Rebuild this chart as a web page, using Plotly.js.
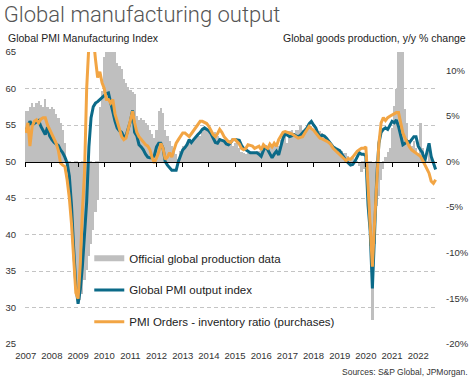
<!DOCTYPE html>
<html>
<head>
<meta charset="utf-8">
<script src="https://cdn.plot.ly/plotly-3.0.1.min.js"></script>
<style>html,body{margin:0;padding:0;background:#fff;}#chart{width:474px;height:384px;}</style>
</head>
<body>
<div id="chart"></div>
<script>
// ---- Data (monthly, Jan 2007 onwards) ----
const startYear = 2007;
const yearLabels = ['2007','2008','2009','2010','2011','2012','2013','2014','2015','2016','2017','2018','2019','2020','2021','2022'];

// Global PMI output index (left axis)
const pmiOutput = [
  54.1, 55.0, 55.5, 55.0, 55.2, 55.5, 55.6, 54.8, 54.2, 53.7, 54.7, 53.5,
  53.0, 52.6, 52.4, 52.2, 51.6, 51.2, 50.6, 49.8, 48.0, 44.0, 38.0, 33.0,
  30.5, 32.5, 35.5, 39.5, 44.5, 52.0, 56.0, 57.5, 58.0, 58.2, 58.5, 58.8,
  59.0, 59.3, 59.4, 58.0, 56.6, 55.5, 54.6, 54.2, 54.0, 53.4, 53.5, 54.5,
  55.5, 57.0, 54.0, 53.5, 52.3, 52.0, 51.6, 51.0, 50.6, 50.5, 50.5, 50.8,
  52.0, 52.5, 52.5, 51.8, 50.0, 49.5, 49.1, 48.8, 48.8, 48.8, 50.0, 50.8,
  51.6, 51.9, 52.3, 53.0, 52.6, 53.0, 53.4, 53.7, 54.0, 54.4, 54.6, 54.4,
  54.2, 53.8, 53.2, 52.6, 52.5, 53.0, 52.9, 52.8, 52.4, 52.3, 52.6, 53.0,
  53.0, 53.0, 52.9, 52.2, 51.8, 51.6, 51.4, 51.2, 51.2, 51.2, 51.2, 51.0,
  50.7, 51.5, 52.1, 51.6, 51.0, 50.5, 51.0, 51.4, 50.9, 52.0, 53.2, 53.8,
  53.6, 53.4, 53.5, 53.7, 53.5, 53.4, 53.6, 53.9, 54.3, 54.6, 55.2, 55.5,
  55.0, 54.6, 53.9, 53.4, 53.6, 53.5, 53.2, 52.8, 52.5, 52.0, 51.8, 51.6,
  51.5, 51.0, 50.5, 50.1, 49.8, 49.5, 49.6, 50.0, 50.6, 51.2, 51.0, 51.0,
  50.8, 44.0, 40.5, 32.6, 40.0, 47.8, 52.5, 54.0, 54.4, 54.6, 54.4, 55.0,
  55.5, 55.3, 55.7, 54.8, 53.4, 52.3, 52.5, 52.8, 52.6, 53.0, 53.4, 53.4,
  52.1, 51.6, 51.2, 50.0, 51.2, 52.5, 50.7, 49.8, 48.9
];

// PMI Orders - inventory ratio (purchases) (left axis)
const ordersInventory = [
  53.9, 55.3, 52.1, 54.8, 55.5, 55.7, 55.3, 55.8, 56.0, 56.0, 55.0, 54.4,
  53.8, 53.2, 52.5, 51.5, 49.8, 49.5, 49.3, 47.5, 45.0, 41.5, 37.0, 32.0,
  31.2, 36.0, 43.0, 48.5, 60.0, 66.0, 68.0, 67.0, 64.0, 61.5, 62.3, 60.8,
  60.0, 58.5, 58.5, 58.0, 58.5, 56.5, 55.5, 54.5, 53.4, 53.0, 53.2, 54.4,
  55.5, 56.9, 55.3, 54.0, 53.4, 53.0, 52.6, 52.3, 52.1, 51.6, 50.5, 49.8,
  50.5, 51.3, 52.5, 51.8, 50.3, 50.6, 51.2, 50.6, 51.6, 52.5, 53.0, 53.5,
  53.9, 53.9, 53.6, 53.4, 53.8, 54.2, 54.6, 55.0, 55.5, 55.5, 55.4, 55.2,
  54.8, 54.2, 53.7, 53.4, 53.8, 54.4, 54.0, 53.4, 53.0, 52.7, 52.6, 53.0,
  53.0, 52.6, 52.4, 51.8, 51.6, 51.8, 52.3, 52.2, 52.1, 51.8, 52.0, 52.1,
  51.6, 52.3, 52.0, 51.8, 52.4, 52.0, 52.5, 52.1, 53.0, 53.6, 54.0, 54.1,
  54.0, 53.9, 53.8, 53.6, 53.4, 53.2, 53.3, 53.4, 53.9, 54.3, 54.8, 54.5,
  54.3, 53.9, 53.5, 53.2, 53.1, 53.0, 52.8, 52.6, 52.3, 51.8, 51.5, 51.3,
  50.9, 50.6, 50.3, 50.1, 50.4, 50.3, 50.6, 51.0, 51.4, 51.6, 51.8, 51.8,
  52.0, 46.5, 41.0, 35.6, 41.5, 48.0, 52.5, 55.3, 56.0, 55.6, 56.0, 56.2,
  56.4, 56.6, 56.7, 56.7, 55.5, 53.9, 53.2, 52.5, 52.0, 51.6, 51.4, 51.2,
  51.0, 50.7, 50.2, 49.6, 49.0, 48.4, 47.3, 47.0, 47.5
];

// Official global production data, y/y % (right axis)
const goodsProduction = [
  5.5, 5.5, 6.0, 6.4, 6.0, 6.4, 6.6, 6.2, 6.0, 6.8, 6.0, 5.7,
  6.0, 5.8, 5.2, 4.8, 4.2, 3.5, 2.0, -0.5, -3.0, -6.7, -10.0, -13.0,
  -15.2, -15.2, -14.5, -13.0, -11.9, -10.4, -9.0, -7.5, -5.5, -4.2, 6.0, 7.7,
  11.5, 12.0, 14.0, 14.5, 14.0, 13.0, 10.8, 10.5, 10.1, 9.0, 8.6, 8.2,
  7.8, 7.6, 7.4, 5.0, 4.5, 4.8, 4.5, 4.2, 4.0, 3.5, 3.0, 2.6,
  3.5, 5.5, 5.9, 5.3, 3.5, 2.8, 2.2, 1.7, 1.0, 0.8, 0.3, 1.2,
  1.7, 1.7, 2.0, 2.4, 2.4, 2.4, 2.6, 2.8, 2.8, 3.2, 3.5, 3.3,
  3.5, 3.3, 3.0, 3.2, 2.8, 2.6, 2.4, 2.4, 2.6, 2.4, 2.0, 1.7,
  2.0, 2.4, 1.5, 1.0, 0.9, 0.8, 0.9, 0.9, 1.0, 1.0, 1.1, 1.2,
  1.3, 1.5, 1.5, 1.7, 1.8, 1.7, 1.8, 2.0, 1.7, 2.4, 3.1, 3.3,
  2.0, 3.3, 3.4, 3.1, 3.4, 3.5, 3.9, 3.5, 3.2, 3.5, 3.6, 3.9,
  3.5, 3.6, 3.3, 3.3, 3.1, 2.8, 2.4, 2.1, 2.0, 1.7, 1.5, 1.3,
  1.3, 1.2, 0.9, 0.9, 0.6, 0.3, 0.5, 0.2, -0.2, -0.5, -1.2, -0.8,
  -1.2, -5.3, -9.3, -17.4, -9.0, -4.9, -3.8, -2.0, -0.8, 0.5, 1.0, 1.5,
  3.7, 6.1, 7.9, 17.0, 15.0, 12.8, 5.7, 4.2, 2.4, 1.7, 2.2, 1.5,
  0.9, 4.2, 1.5, 0.6, -0.2, 2.0, 0.9
];

// Right axis tick labels
const rightTickVals = [-20, -15, -10, -5, 0, 5, 10];
const rightTickText = ['-20%', '-15%', '-10%', '-5%', '0%', '5%', '10%'];

// Monthly category dates
function monthDates(n) {
  const out = [];
  for (let m = 0; m < n; m++) {
    const y = startYear + Math.floor(m / 12);
    const mo = (m % 12) + 1;
    out.push(y + '-' + (mo < 10 ? '0' : '') + mo + '-01');
  }
  return out;
}
const xPmi = monthDates(pmiOutput.length);
const xOrd = monthDates(ordersInventory.length);
const xProd = monthDates(goodsProduction.length);

const GRAY = '#bfbfbf', TEAL = '#0b6a88', ORANGE = '#f2a544';
const xRange = ['2006-12-22', '2022-09-20'];
const BAR_WIDTH_MS = 32 * 24 * 3600 * 1000;

const traces = [
  {type:'bar', x:xProd, y:goodsProduction, xaxis:'x', yaxis:'y', width:BAR_WIDTH_MS,
   marker:{color:GRAY, line:{width:0}}, showlegend:false, hoverinfo:'skip'},
  {type:'scatter', mode:'lines', x:[xProd[0]], y:[null], xaxis:'x', yaxis:'y2',
   name:'Official global production data', legend:'legend',
   line:{color:GRAY, width:6}, hoverinfo:'skip'},
  {type:'scatter', mode:'lines', x:xPmi, y:pmiOutput, xaxis:'x', yaxis:'y2',
   name:'Global PMI output index', legend:'legend2',
   line:{color:TEAL, width:3}},
  {type:'scatter', mode:'lines', x:xOrd, y:ordersInventory, xaxis:'x', yaxis:'y2',
   name:'PMI Orders - inventory ratio (purchases)', legend:'legend3',
   line:{color:ORANGE, width:3}},
  {type:'scatter', mode:'lines', x:[xPmi[0]], y:[null], xaxis:'x2', yaxis:'y2',
   showlegend:false, hoverinfo:'skip'}
];

const tickFont = {family:'Liberation Sans, Arial, sans-serif', size:9.5, color:'#333'};
const legFont = {family:'Liberation Sans, Arial, sans-serif', size:11.5, color:'#222'};
const legX = 0.156;
function leg(y) {
  return {x:legX, y:y, xanchor:'left', yanchor:'middle', bgcolor:'rgba(0,0,0,0)',
          font:legFont, itemwidth:30, borderwidth:0};
}

const layout = {
  width:474, height:384,
  margin:{l:25, r:37, t:52, b:40, pad:0},
  paper_bgcolor:'#fff', plot_bgcolor:'#fff',
  font:{family:'Liberation Sans, Arial, sans-serif', color:'#222', size:10},
  title:{text:'Global manufacturing output',
         font:{family:'Roboto, Open Sans, sans-serif', size:22, weight:300, color:'#555'},
         x:0.008, xanchor:'left', xref:'container',
         y:0.984, yanchor:'top', yref:'container', pad:{t:0,l:0,b:0,r:0}},
  showlegend:true,
  legend:leg(0.2935),
  legend2:leg(0.185),
  legend3:leg(0.0764),
  bargap:0,
  hovermode:false,
  xaxis:{type:'date', range:xRange, tick0:'2007-01-01', dtick:'M12', tickformat:'%Y',
         showgrid:false, zeroline:false, showline:false, ticks:'', tickfont:tickFont,
         ticklabelstandoff:4, fixedrange:true},
  xaxis2:{type:'date', range:xRange, overlaying:'x', anchor:'free', position:0.625, side:'bottom',
          showline:true, linecolor:'#000', linewidth:1.3, ticks:'outside', ticklen:4,
          tickcolor:'#000', tickwidth:1, tick0:'2007-01-01', dtick:'M12',
          showticklabels:false, showgrid:false, zeroline:false, fixedrange:true},
  yaxis:{side:'right', range:[-20, 12], tickvals:rightTickVals, ticktext:rightTickText,
         showgrid:false, zeroline:false, showline:false, ticks:'', tickfont:tickFont,
         ticklabelstandoff:8, fixedrange:true},
  yaxis2:{overlaying:'y', side:'left', range:[25, 65], tick0:25, dtick:5,
          showgrid:true, gridcolor:'#c4c4c4', griddash:'4px,3px', gridwidth:1,
          zeroline:false, showline:false, ticks:'', tickfont:tickFont, ticklabelstandoff:8,
          fixedrange:true},
  annotations:[
    {text:'Global PMI Manufacturing Index', xref:'paper', yref:'paper', x:-0.045, y:1.047,
     xanchor:'left', yanchor:'middle', showarrow:false,
     font:{family:'Liberation Sans, Arial, sans-serif', size:10.5, color:'#222'}},
    {text:'Global goods production, y/y % change', xref:'paper', yref:'paper', x:1.076, y:1.047,
     xanchor:'right', yanchor:'middle', showarrow:false,
     font:{family:'Liberation Sans, Arial, sans-serif', size:10.5, color:'#222'}},
    {text:'Sources: S&P Global, JPMorgan.', xref:'paper', yref:'paper', x:1.08, y:-0.095,
     xanchor:'right', yanchor:'middle', showarrow:false,
     font:{family:'Liberation Sans, Arial, sans-serif', size:8.5, color:'#333'}}
  ]
};

Plotly.newPlot('chart', traces, layout, {displayModeBar:false});
</script>
</body>
</html>
